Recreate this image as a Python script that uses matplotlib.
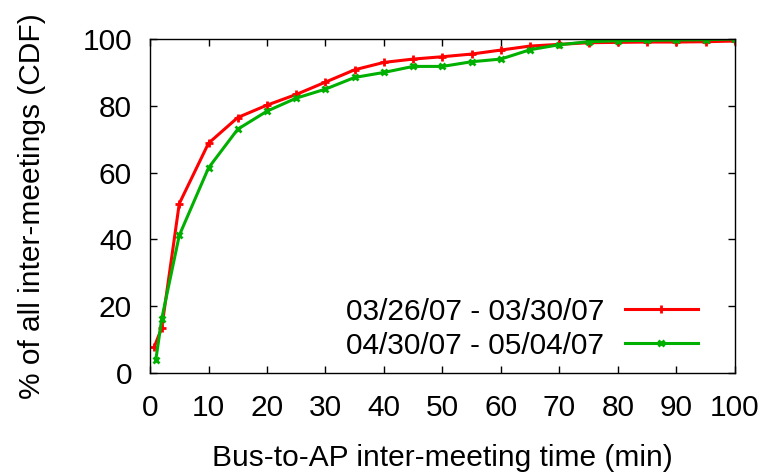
import matplotlib
matplotlib.use('Agg')
import matplotlib.pyplot as plt

plt.rcParams['font.family'] = ['Liberation Sans', 'DejaVu Sans']

# Bus-to-AP inter-meeting time (min)
minutes_a = [0.7, 2, 5, 10, 15, 20, 25, 30, 35, 40, 45, 50, 55, 60, 65, 70, 75, 80, 85, 90, 95, 100]
cdf_a = [7.7, 13.5, 50.7, 68.8, 76.5, 80.2, 83.4, 87.1, 90.8, 93.0, 94.0, 94.7, 95.5, 96.7,
         97.9, 98.4, 98.9, 99.0, 99.1, 99.1, 99.2, 99.4]

minutes_b = [1, 2, 5, 10, 15, 20, 25, 30, 35, 40, 45, 50, 55, 60, 65, 70, 75, 80, 85, 90, 95, 100]
cdf_b = [4.0, 16.2, 41.2, 61.4, 73.0, 78.4, 82.3, 85.0, 88.5, 90.0, 91.8, 91.8, 93.2, 94.0,
         96.8, 98.3, 99.2, 99.5, 99.6, 99.7, 99.8, 100.0]

labels = ['03/26/07 - 03/30/07', '04/30/07 - 05/04/07']

fs = 21.5

fig = plt.figure(figsize=(7.67, 4.76), dpi=100)
ax = fig.add_axes([0.1956, 0.2164, 0.7624, 0.7016])

ax.plot(minutes_a, cdf_a, color='#ff0000', lw=2.2, marker='+', ms=6, mew=2, label=labels[0])
ax.plot(minutes_b, cdf_b, color='#00b000', lw=2.2, marker='x', ms=5, mew=2, label=labels[1])

ax.set_xlim(0, 100)
ax.set_ylim(0, 100)
ax.set_xticks(range(0, 101, 10))
ax.set_yticks(range(0, 101, 20))
ax.tick_params(direction='in', top=True, right=True, length=5, width=1, labelsize=fs)
ax.tick_params(axis='x', pad=15)
ax.tick_params(axis='y', pad=13)
for s in ax.spines.values():
    s.set_linewidth(1)

ax.set_xlabel('Bus-to-AP inter-meeting time (min)', fontsize=fs, labelpad=16)
ax.set_ylabel('% of all inter-meetings (CDF)', fontsize=fs, labelpad=26)

ax.legend(loc='center right', bbox_to_anchor=(0.937, 0.132), frameon=False, markerfirst=False,
          fontsize=fs, handlelength=2.45, handletextpad=0.7, labelspacing=0.2,
          borderaxespad=0, borderpad=0)

fig.savefig('out.png', dpi=100)
